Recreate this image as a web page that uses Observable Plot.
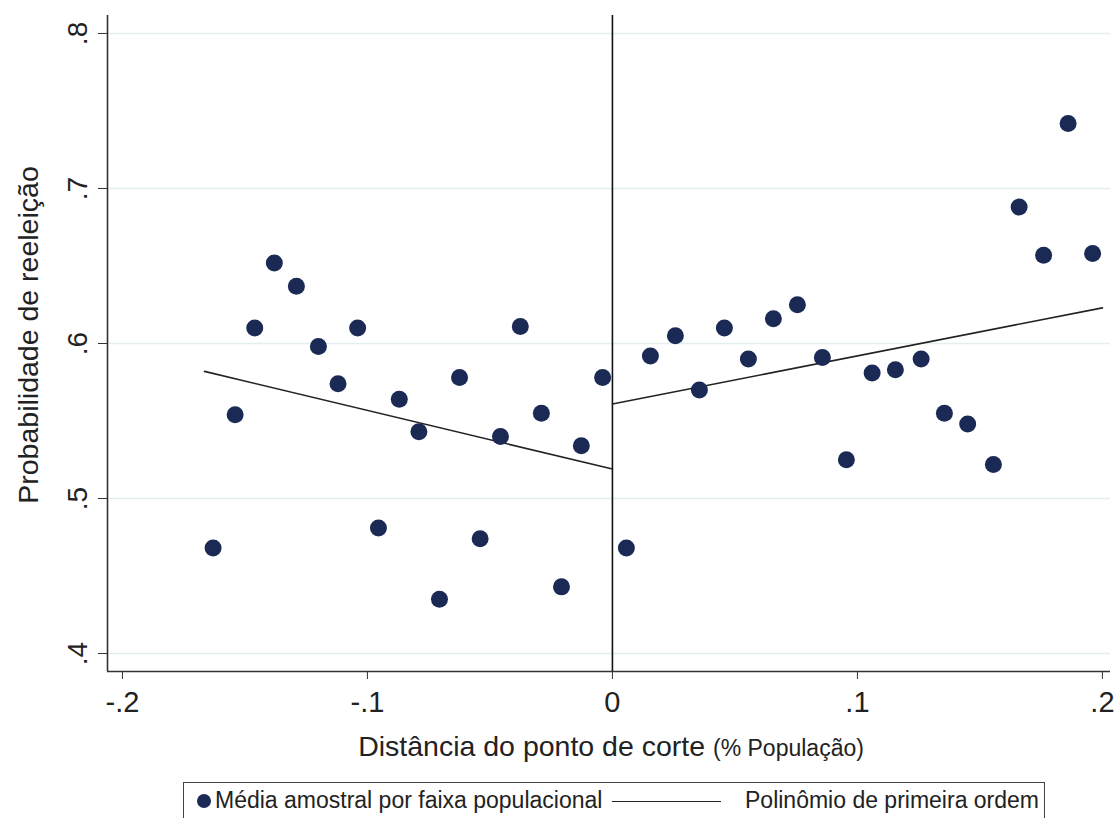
<!DOCTYPE html>
<html>
<head>
<meta charset="utf-8">
<script src="https://cdn.jsdelivr.net/npm/d3@7"></script>
<script src="https://cdn.jsdelivr.net/npm/@observablehq/plot@0.6"></script>
<style>
  html, body { margin: 0; padding: 0; background: #fff; }
  #wrap { position: relative; width: 1118px; height: 818px; overflow: hidden; font-family: "Liberation Sans", Arial, sans-serif; }
  #chart { position: absolute; left: 0; top: 0; }
  #legend {
    position: absolute; left: 183px; top: 782px; width: 862px; height: 50px;
    border: 1.5px solid #444; box-sizing: border-box; background: #fff;
    font-size: 23px; color: #222; white-space: nowrap;
  }
  #legend .dot { position: absolute; left: 13px; top: 11px; width: 14px; height: 14px; border-radius: 50%; background: #1b2a55; }
  #legend .t1 { position: absolute; left: 31px; top: 4px; }
  #legend .line { position: absolute; left: 428px; top: 18px; width: 109px; height: 0; border-top: 1.5px solid #222; }
  #legend .t2 { position: absolute; left: 561px; top: 4px; }
</style>
</head>
<body>
<div id="wrap">
  <div id="chart"></div>
  <div id="legend">
    <span class="dot"></span><span class="t1">Média amostral por faixa populacional</span>
    <span class="line"></span><span class="t2">Polinômio de primeira ordem</span>
  </div>
</div>
<script>
// Sample means per population bin (x = distance from cutoff, y = re-election probability)
const binX = [-0.163, -0.154, -0.146, -0.138, -0.129, -0.120, -0.112, -0.104, -0.0955, -0.087,
              -0.079, -0.0706, -0.0624, -0.054, -0.0457, -0.0376, -0.029, -0.0208, -0.0127, -0.004,
               0.0057, 0.0155, 0.0257, 0.0355, 0.0457, 0.0555, 0.0657, 0.0755, 0.0857, 0.0955,
               0.106, 0.1155, 0.126, 0.1355, 0.145, 0.1555, 0.166, 0.176, 0.186, 0.196];
const binY = [0.468, 0.554, 0.610, 0.652, 0.637, 0.598, 0.574, 0.610, 0.481, 0.564,
              0.543, 0.435, 0.578, 0.474, 0.540, 0.611, 0.555, 0.443, 0.534, 0.578,
              0.468, 0.592, 0.605, 0.570, 0.610, 0.590, 0.616, 0.625, 0.591, 0.525,
              0.581, 0.583, 0.590, 0.555, 0.548, 0.522, 0.688, 0.657, 0.742, 0.658];

// First-order polynomial fits on each side of the cutoff
const fitLeftX = [-0.1665, 0];
const fitLeftY = [0.582, 0.519];
const fitRightX = [0, 0.2];
const fitRightY = [0.561, 0.623];

const xTicks = [-0.2, -0.1, 0, 0.1, 0.2];
const xTickLabels = ["-.2", "-.1", "0", ".1", ".2"];
const yTicks = [0.4, 0.5, 0.6, 0.7, 0.8];
const yTickLabels = [".4", ".5", ".6", ".7", ".8"];

const xDomain = [-0.2061, 0.2033];
const yDomain = [0.3884, 0.8116];

const points = binX.map((x, i) => ({x, y: binY[i]}));
const fitL = fitLeftX.map((x, i) => ({x, y: fitLeftY[i]}));
const fitR = fitRightX.map((x, i) => ({x, y: fitRightY[i]}));

const plot = Plot.plot({
  width: 1118,
  height: 780,
  marginLeft: 107,
  marginRight: 8,
  marginTop: 15,
  marginBottom: 109,
  style: {fontFamily: "'Liberation Sans', Arial, sans-serif", color: "#222", background: "transparent", overflow: "visible"},
  x: {domain: xDomain},
  y: {domain: yDomain},
  marks: [
    Plot.gridY(yTicks, {stroke: "#e4eef0", strokeOpacity: 1, strokeWidth: 1.6}),
    Plot.ruleX([xDomain[0]], {stroke: "#333", strokeWidth: 1.6}),
    Plot.ruleY([yDomain[0]], {stroke: "#333", strokeWidth: 1.6}),
    Plot.ruleX([0], {stroke: "#111", strokeWidth: 1.6}),
    Plot.axisY({
      ticks: yTicks, tickFormat: d => yTickLabels[yTicks.indexOf(d)],
      tickSize: 9, tickPadding: 12, tickRotate: -90, fontSize: 28, stroke: "#333",
      label: null
    }),
    Plot.axisX({
      ticks: xTicks, tickFormat: d => xTickLabels[xTicks.indexOf(d)],
      tickSize: 8, tickPadding: 12, fontSize: 29, stroke: "#333",
      label: null
    }),
    Plot.line(fitL, {x: "x", y: "y", stroke: "#222", strokeWidth: 1.6}),
    Plot.line(fitR, {x: "x", y: "y", stroke: "#222", strokeWidth: 1.6}),
    Plot.dot(points, {x: "x", y: "y", r: 8.5, fill: "#1b2a55", stroke: "none"})
  ]
});

document.getElementById("chart").appendChild(plot);

const svg = d3.select(plot);
// y axis title
svg.append("text")
  .attr("transform", "translate(38,335) rotate(-90)")
  .attr("text-anchor", "middle")
  .attr("font-size", 28.5)
  .attr("fill", "#222")
  .text("Probabilidade de reeleição");
// x axis title with smaller parenthetical
const xt = svg.append("text")
  .attr("x", 611).attr("y", 756)
  .attr("text-anchor", "middle")
  .attr("fill", "#222");
xt.append("tspan").attr("font-size", 28.5).text("Distância do ponto de corte ");
xt.append("tspan").attr("font-size", 23).text("(% População)");
</script>
</body>
</html>
